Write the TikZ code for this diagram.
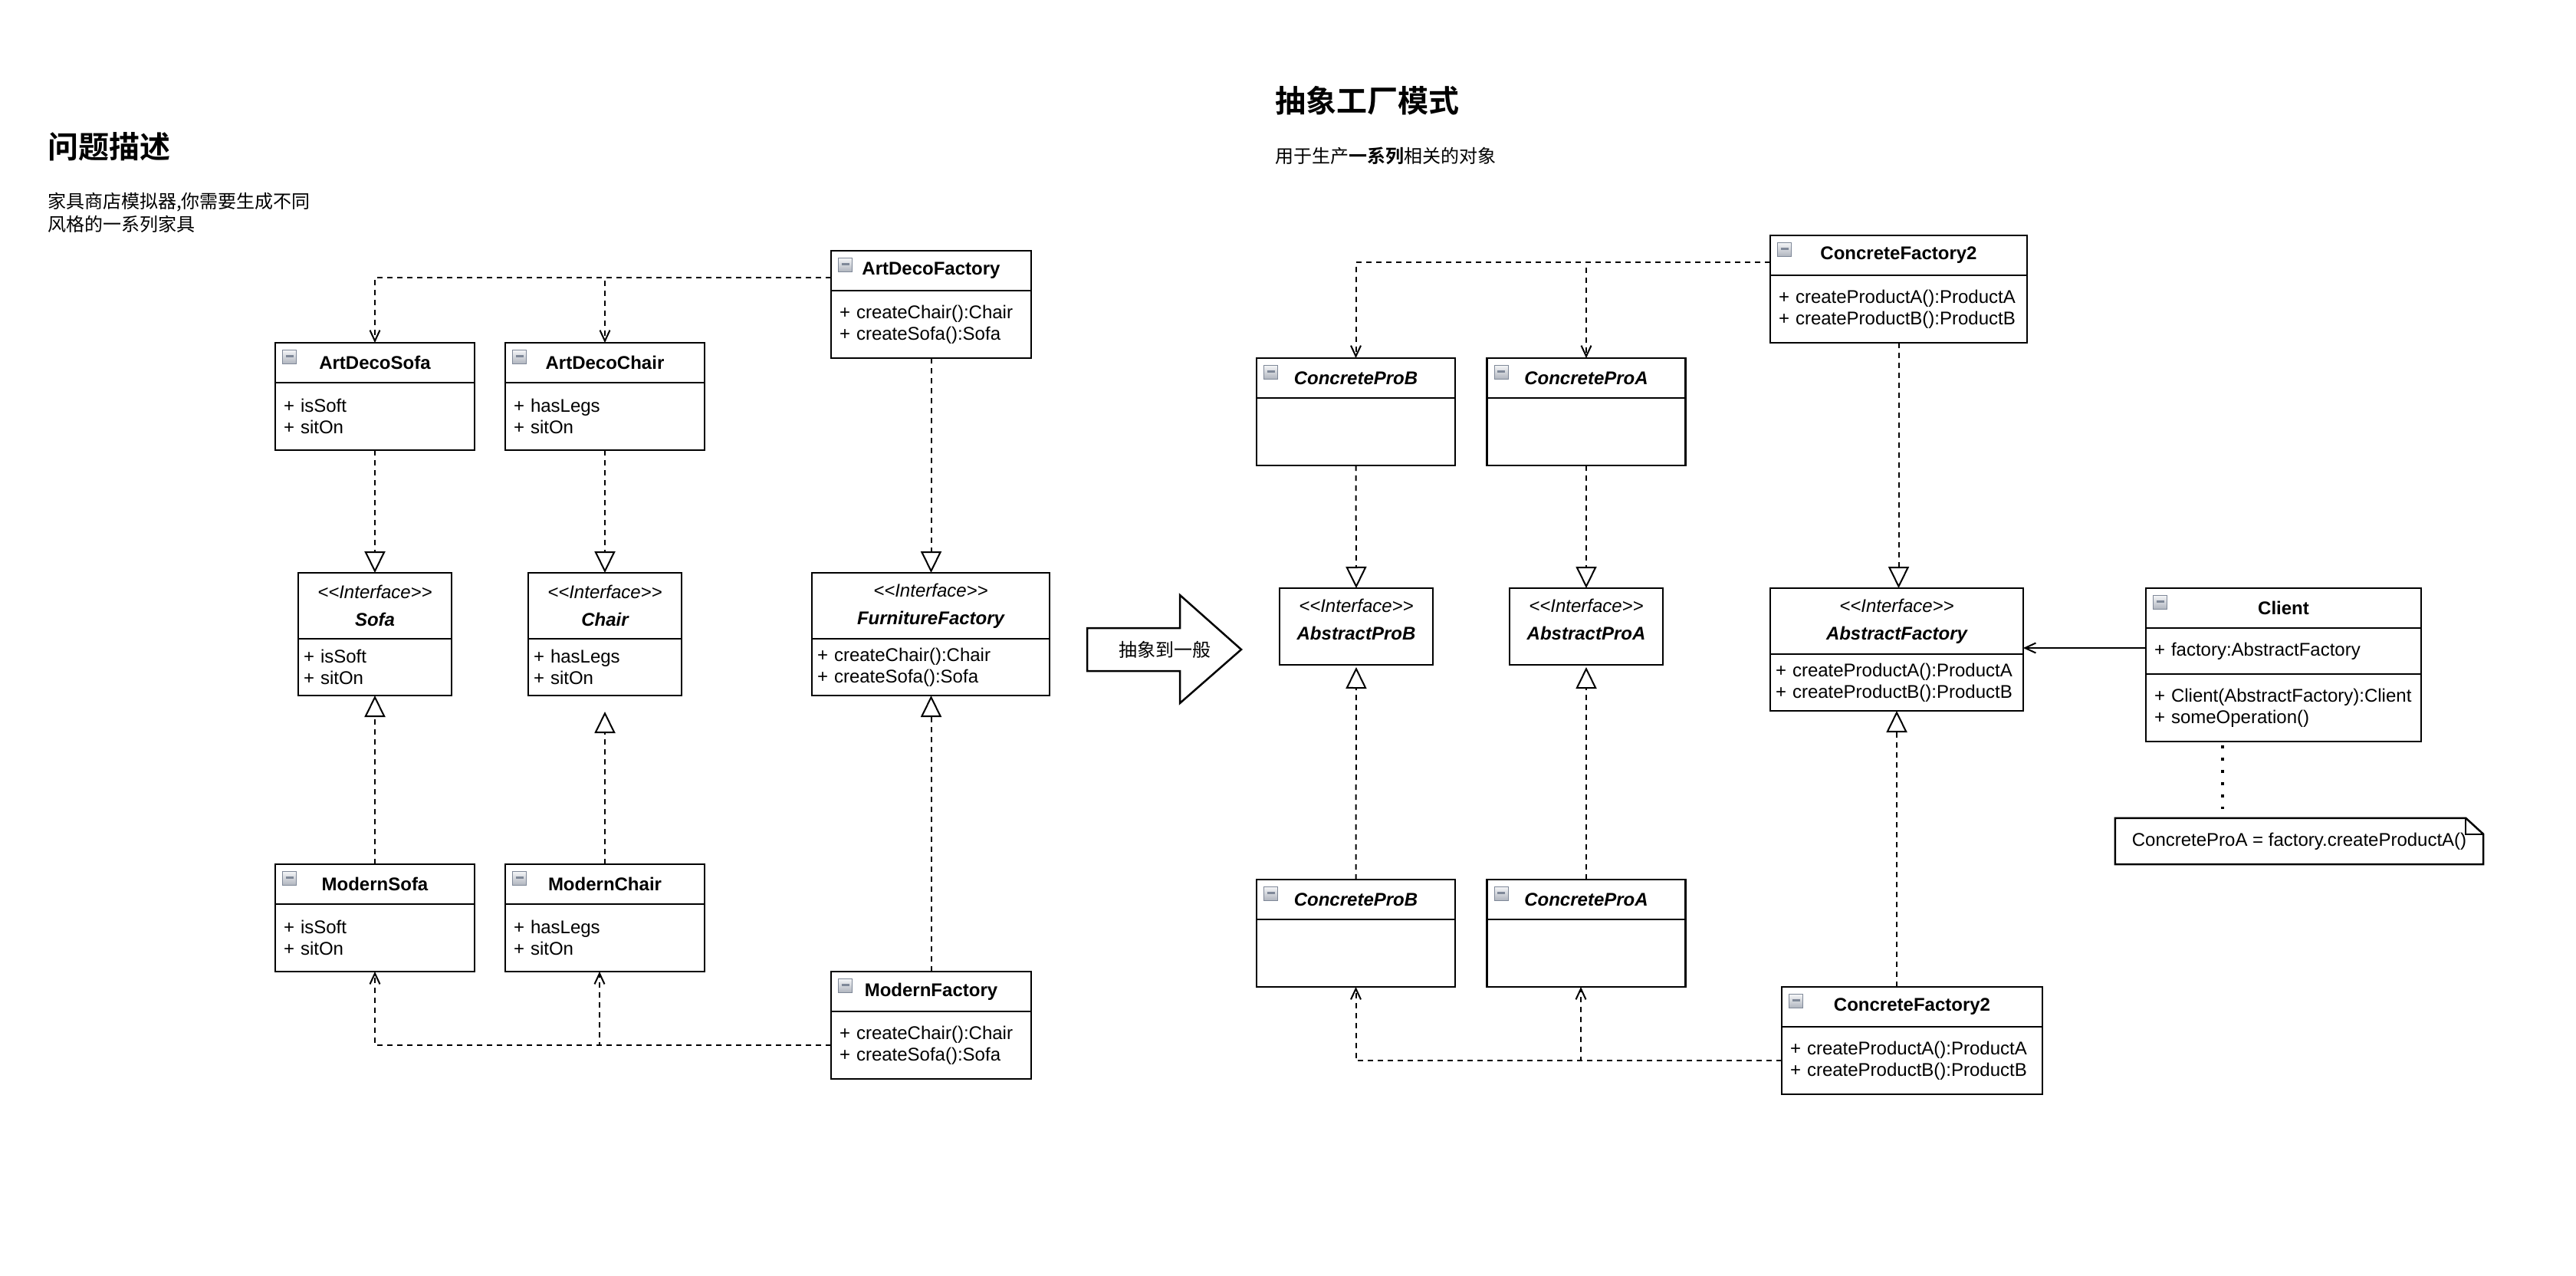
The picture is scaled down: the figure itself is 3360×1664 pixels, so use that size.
\documentclass[tikz,border=0pt]{standalone}
\usepackage{fontspec}
\setmainfont{Liberation Sans}
\newfontfamily\cjk{Noto Sans CJK SC}[BoldFont={Noto Sans CJK SC Bold}]
\usetikzlibrary{arrows.meta}
\definecolor{iconedge}{HTML}{7F8898}
\definecolor{iconlight}{HTML}{F4F5F7}
\definecolor{icondark}{HTML}{AEB3BD}
\newcommand\umlfont{\fontsize{24}{28}\selectfont}
\newcommand\stereo{<\kern0pt<Interface>\kern0pt>}

\tikzset{
  classhead/.style={draw, line width=2.5pt, outer sep=0pt, minimum width=#1, minimum height=52pt, inner sep=0pt, font=\umlfont\bfseries},
  classhead/.default=260pt,
  ifacehead/.style={draw, line width=2.5pt, outer sep=0pt, minimum width=#1, minimum height=86pt, inner sep=0pt, align=center, font=\fontsize{24}{36}\selectfont},
  classbody/.style={draw, line width=2.5pt, outer sep=0pt, anchor=north, minimum width=#1, text width=#1-22pt, minimum height=88pt, inner xsep=11pt, inner ysep=0pt, align=left, font=\umlfont},
  classbody/.default=260pt,
  ifacebody/.style={classbody=#1, minimum height=74pt, inner xsep=7pt, text width=#1-14pt},
  collapse/.style={anchor=north west, draw=iconedge, line width=1.2pt, minimum size=18pt, inner sep=0pt, top color=iconlight, bottom color=icondark,
    path picture={\draw[line width=2.5pt] ([xshift=4pt,yshift=1pt]path picture bounding box.west) -- ([xshift=-4pt,yshift=1pt]path picture bounding box.east);}},
  dep/.style={line width=2pt, dash pattern=on 7pt off 6pt, -{Straight Barb[length=14pt,width=13pt]}},
  realize/.style={line width=2pt, dash pattern=on 7pt off 6pt, -{Triangle[open,length=28pt,width=27pt]}},
  assoc/.style={line width=2pt, -{Straight Barb[length=14pt,width=13pt]}},
  notelink/.style={line width=4pt, dash pattern=on 4pt off 12pt},
}

\begin{document}
\begin{tikzpicture}[x=1pt, y=-1pt]
  \path[use as bounding box, fill=white] (0,0) rectangle (3360,1664);

  % problem
  \node[anchor=west, inner sep=0pt, font=\cjk\bfseries\fontsize{40}{48}\selectfont] (ptitle) at (62,191) {问题描述};
  \node[anchor=north west, align=left, inner sep=0pt, font=\cjk\fontsize{24}{30}\selectfont] (pdesc) at (62,251) {家具商店模拟器,你需要生成不同\\风格的一系列家具};

  \node[classhead] (adsh) at (489,473) {ArtDecoSofa};
  \node[classbody] (adsb) at (adsh.south) {+ isSoft\\+ sitOn};
  \node[collapse] (adsi) at ([xshift=9pt,yshift=-9pt]adsh.north west) {};
  \node[classhead] (adch) at (789,473) {ArtDecoChair};
  \node[classbody] (adcb) at (adch.south) {+ hasLegs\\+ sitOn};
  \node[collapse] (adci) at ([xshift=9pt,yshift=-9pt]adch.north west) {};
  \node[classhead=261pt] (adfh) at (1214.5,353) {ArtDecoFactory};
  \node[classbody=261pt] (adfb) at (adfh.south) {+ createChair():Chair\\+ createSofa():Sofa};
  \node[collapse] (adfi) at ([xshift=9pt,yshift=-9pt]adfh.north west) {};

  \node[ifacehead=200pt] (sofah) at (489,790) {{\itshape\stereo}\\{\bfseries\itshape Sofa}};
  \node[ifacebody=200pt] (sofab) at (sofah.south) {+ isSoft\\+ sitOn};
  \node[ifacehead=200pt] (chairh) at (789,790) {{\itshape\stereo}\\{\bfseries\itshape Chair}};
  \node[ifacebody=200pt] (chairb) at (chairh.south) {+ hasLegs\\+ sitOn};
  \node[ifacehead=310pt] (ffh) at (1214,790) {{\itshape\stereo}\\{\bfseries\itshape FurnitureFactory}};
  \node[ifacebody=310pt] (ffb) at (ffh.south) {+ createChair():Chair\\+ createSofa():Sofa};

  \node[classhead] (msh) at (489,1153) {ModernSofa};
  \node[classbody] (msb) at (msh.south) {+ isSoft\\+ sitOn};
  \node[collapse] (msi) at ([xshift=9pt,yshift=-9pt]msh.north west) {};
  \node[classhead] (mch) at (789,1153) {ModernChair};
  \node[classbody] (mcb) at (mch.south) {+ hasLegs\\+ sitOn};
  \node[collapse] (mci) at ([xshift=9pt,yshift=-9pt]mch.north west) {};
  \node[classhead=261pt] (mfh) at (1214.5,1293) {ModernFactory};
  \node[classbody=261pt] (mfb) at (mfh.south) {+ createChair():Chair\\+ createSofa():Sofa};
  \node[collapse] (mfi) at ([xshift=9pt,yshift=-9pt]mfh.north west) {};

  \draw[dep] ([yshift=-9pt]adfh.west) -| (adsh.north);
  \draw[dep] ([yshift=-9pt]adfh.west) -| (adch.north);
  \draw[realize] (adfb.south) -- (adfb.south |- ffh.north);
  \draw[realize] (adsb.south) -- (sofah.north);
  \draw[realize] (adcb.south) -- (chairh.north);
  \draw[realize] (msh.north) -- (sofab.south);
  \draw[realize, shorten >=21pt] (mch.north) -- (chairb.south);
  \draw[realize] (mfh.north) -- (mfh.north |- ffb.south);
  \draw[dep] (mfb.west) -| (msb.south);
  \draw[dep] (mfb.west) -| ([xshift=-7pt]mcb.south);

  % generalisation arrow
  \draw[line width=2.5pt] (1418,819) -- (1539,819) -- (1539,776) -- (1619,847) -- (1539,917) -- (1539,875) -- (1418,875) -- cycle;
  \node[font=\cjk\fontsize{24}{28}\selectfont] (gen) at (1519,847) {抽象到一般};

  % pattern
  \node[anchor=west, inner sep=0pt, font=\cjk\bfseries\fontsize{40}{48}\selectfont] (rtitle) at (1663,131) {抽象工厂模式};
  \node[anchor=west, inner sep=0pt, font=\cjk\fontsize{24}{28}\selectfont] (rdesc) at (1663,203) {用于生产{\bfseries 一系列}相关的对象};

  \node[classhead=335pt] (cf2th) at (2476.5,333) {ConcreteFactory2};
  \node[classbody=335pt] (cf2tb) at (cf2th.south) {+ createProductA():ProductA\\+ createProductB():ProductB};
  \node[collapse] (cf2ti) at ([xshift=9pt,yshift=-9pt]cf2th.north west) {};
  \node[classhead=259pt, font=\umlfont\bfseries\itshape] (cpbth) at (1768.5,493) {ConcreteProB};
  \node[classbody=259pt] (cpbtb) at (cpbth.south) {};
  \node[collapse] (cpbti) at ([xshift=9pt,yshift=-9pt]cpbth.north west) {};
  \node[classhead=259pt, font=\umlfont\bfseries\itshape] (cpath) at (2069,493) {ConcreteProA};
  \node[classbody=259pt] (cpatb) at (cpath.south) {};
  \node[collapse] (cpati) at ([xshift=9pt,yshift=-9pt]cpath.north west) {};

  \node[ifacehead=200pt, minimum height=100pt, text depth=18pt] (apb) at (1769,817) {{\itshape\stereo}\\{\bfseries\itshape AbstractProB}};
  \node[ifacehead=200pt, minimum height=100pt, text depth=18pt] (apa) at (2069,817) {{\itshape\stereo}\\{\bfseries\itshape AbstractProA}};
  \node[ifacehead=330pt] (afh) at (2474,810) {{\itshape\stereo}\\{\bfseries\itshape AbstractFactory}};
  \node[ifacebody=330pt] (afb) at (afh.south) {+ createProductA():ProductA\\+ createProductB():ProductB};

  \node[classhead=259pt, font=\umlfont\bfseries\itshape] (cpbbh) at (1768.5,1173) {ConcreteProB};
  \node[classbody=259pt] (cpbbb) at (cpbbh.south) {};
  \node[collapse] (cpbbi) at ([xshift=9pt,yshift=-9pt]cpbbh.north west) {};
  \node[classhead=259pt, font=\umlfont\bfseries\itshape] (cpabh) at (2069,1173) {ConcreteProA};
  \node[classbody=259pt] (cpabb) at (cpabh.south) {};
  \node[collapse] (cpabi) at ([xshift=9pt,yshift=-9pt]cpabh.north west) {};
  \node[classhead=340pt] (cf2bh) at (2494,1313) {ConcreteFactory2};
  \node[classbody=340pt] (cf2bb) at (cf2bh.south) {+ createProductA():ProductA\\+ createProductB():ProductB};
  \node[collapse] (cf2bi) at ([xshift=9pt,yshift=-9pt]cf2bh.north west) {};

  \node[classhead=359pt] (clh) at (2978.5,793) {Client};
  \node[classbody=359pt, minimum height=60pt] (cla) at (clh.south) {+ factory:AbstractFactory};
  \node[classbody=359pt] (clo) at (cla.south) {+ Client(AbstractFactory):Client\\+ someOperation()};
  \node[collapse] (cli) at ([xshift=9pt,yshift=-9pt]clh.north west) {};

  \node[minimum width=480pt, minimum height=60pt, inner sep=0pt, font=\umlfont] (note) at (2999,1097) {ConcreteProA = factory.createProductA()};
  \draw[line width=2.5pt] (note.north west) -- ([xshift=-23pt]note.north east) -- ([yshift=-21pt]note.north east) -- (note.south east) -- (note.south west) -- cycle;
  \draw[line width=2pt] ([xshift=-23pt]note.north east) -- ([xshift=-23pt,yshift=-21pt]note.north east) -- ([yshift=-21pt]note.north east);

  \draw[dep] ([yshift=-9pt]cf2th.west) -| (cpbth.north);
  \draw[dep] ([yshift=-9pt]cf2th.west) -| (cpath.north);
  \draw[realize] (cf2tb.south) -- (cf2tb.south |- afh.north);
  \draw[realize] (cpbtb.south) -- (apb.north);
  \draw[realize] (cpatb.south) -- (apa.north);
  \draw[realize, shorten >=3pt] (cpbbh.north) -- (apb.south);
  \draw[realize, shorten >=3pt] (cpabh.north) -- (apa.south);
  \draw[realize] (afb.south |- cf2bh.north) -- (afb.south);
  \draw[dep] (cf2bb.west) -| (cpbbb.south);
  \draw[dep] (cf2bb.west) -| ([xshift=-7pt]cpabb.south);
  \draw[assoc] ([yshift=4pt]cla.west) -- ([yshift=4pt]cla.west -| afh.east);
  \draw[notelink, shorten <=5pt, shorten >=12pt] ([xshift=-80pt]clo.south) -- ([xshift=-80pt]clo.south |- note.north);
\end{tikzpicture}
\end{document}
